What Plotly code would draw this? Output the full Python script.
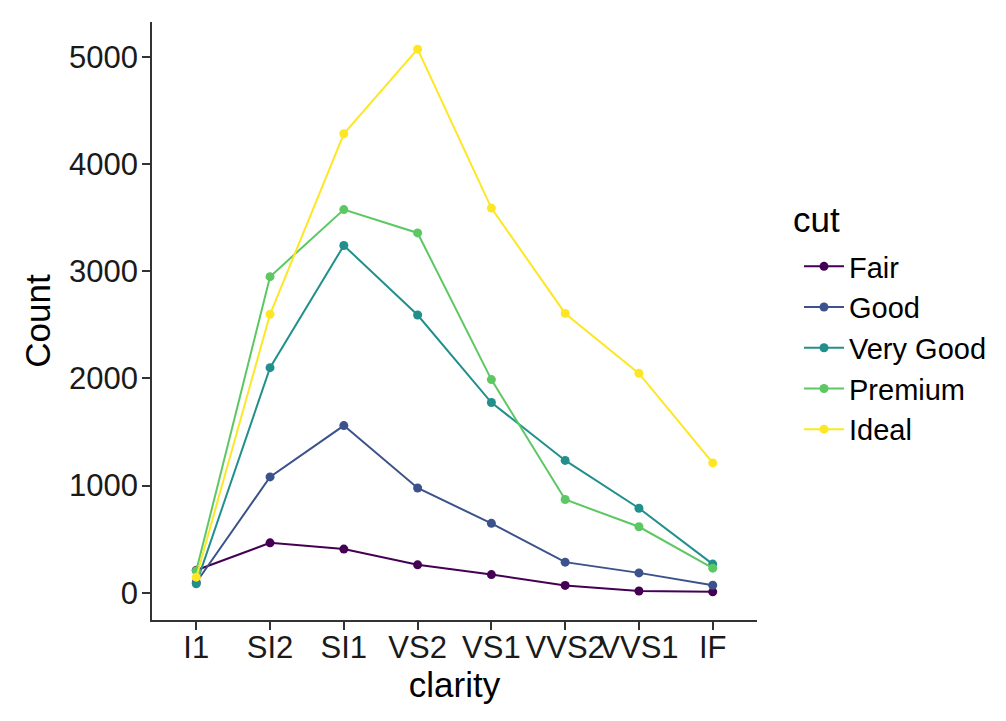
import plotly.graph_objects as go

clarity = ["I1", "SI2", "SI1", "VS2", "VS1", "VVS2", "VVS1", "IF"]
cuts = ["Fair", "Good", "Very Good", "Premium", "Ideal"]
fair = [210, 466, 408, 261, 170, 69, 17, 9]
good = [96, 1081, 1560, 978, 648, 286, 186, 71]
very_good = [84, 2100, 3240, 2591, 1775, 1235, 789, 268]
premium = [205, 2949, 3575, 3357, 1989, 870, 616, 230]
ideal = [146, 2598, 4282, 5071, 3589, 2606, 2047, 1212]
colors = ["#440154", "#3B528B", "#21908C", "#5DC863", "#FDE725"]
y_ticks = [0, 1000, 2000, 3000, 4000, 5000]

series = [fair, good, very_good, premium, ideal]

FONT = "Liberation Sans, Arial, Helvetica, sans-serif"
fig = go.Figure()
for name, vals, col in zip(cuts, series, colors):
    fig.add_trace(go.Scatter(
        x=clarity, y=vals, name=name, mode="lines+markers",
        line=dict(color=col, width=2),
        marker=dict(color=col, size=9),
    ))

# page offset of the figure (body margin)
OFF = 8
W, H = 1006, 721
PL, PT, PR, PB = 152, 22, 757, 620  # plot area in page pixels
L, T = PL - OFF, PT - OFF
R, B = W - (PR - OFF), H - (PB - OFF)
pw, ph = PR - PL, PB - PT

def px_x(p):
    return (p - PL) / pw

def px_y(p):
    return (PB - p) / ph

ymax = max(max(s) for s in series)
fig.update_layout(
    width=W, height=H,
    margin=dict(l=L, r=R, t=T, b=B, autoexpand=False),
    paper_bgcolor="white", plot_bgcolor="white",
    font=dict(family=FONT, color="#1a1a1a"),
    showlegend=True,
    legend=dict(
        font=dict(size=29, color="black"),
        x=px_x(799), xanchor="left", y=px_y(241), yanchor="top",
        bgcolor="rgba(0,0,0,0)", tracegroupgap=0, itemwidth=40,
    ),
    annotations=[dict(
        text="cut", xref="paper", yref="paper", x=px_x(791), y=px_y(219),
        xanchor="left", yanchor="middle", showarrow=False,
        font=dict(size=35, color="black"),
    )],
    xaxis=dict(
        type="category", categoryorder="array", categoryarray=clarity,
        range=[-0.6, 7.6], tickangle=0, automargin=False,
        showline=True, linecolor="#333333", linewidth=1.5,
        ticks="outside", ticklen=8, tickwidth=1.5, tickcolor="#333333",
        tickfont=dict(size=31, color="#1a1a1a"),
        ticklabelstandoff=-9,
        showgrid=False, zeroline=False,
        title=dict(text="clarity", font=dict(size=35, color="black"), standoff=8),
    ),
    yaxis=dict(
        range=[-0.05 * ymax, 1.05 * ymax], automargin=False,
        tickvals=y_ticks, ticktext=[str(v) for v in y_ticks],
        showline=True, linecolor="#333333", linewidth=1.5,
        ticks="outside", ticklen=8, tickwidth=1.5, tickcolor="#333333",
        tickfont=dict(size=31, color="#1a1a1a"),
        ticklabelstandoff=-2,
        showgrid=False, zeroline=False,
        title=dict(text="Count", font=dict(size=35, color="black"), standoff=8),
    ),
)

fig.write_html("out.html")
